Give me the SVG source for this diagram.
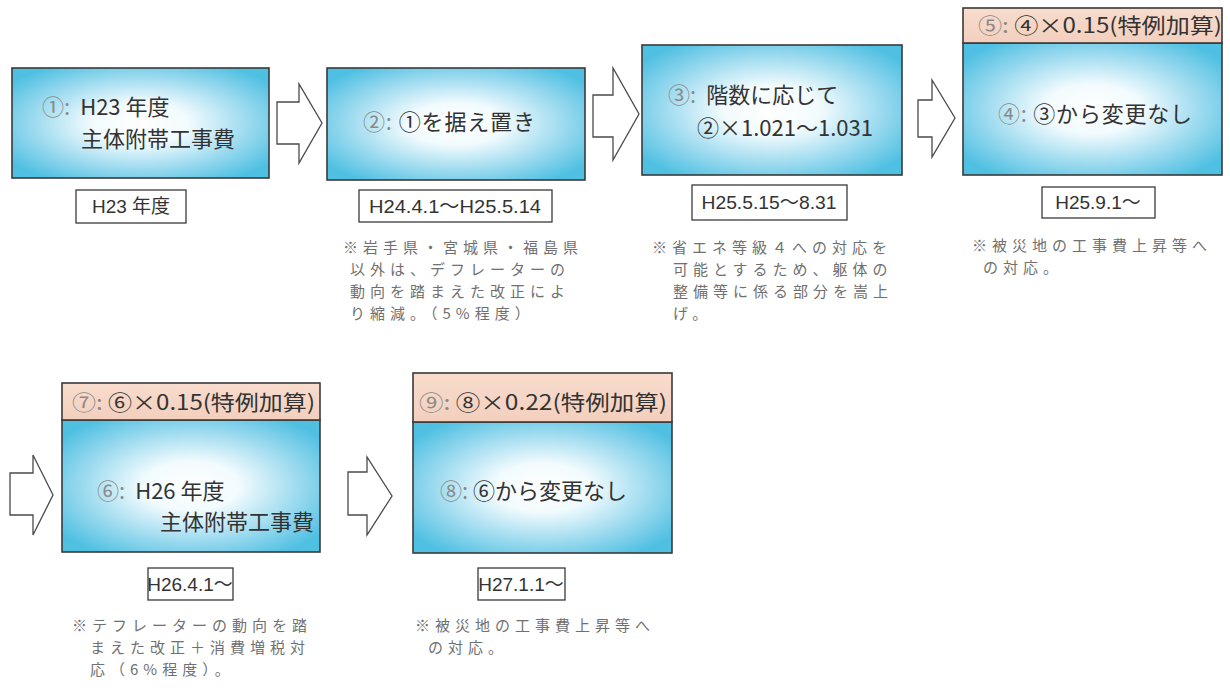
<svg xmlns="http://www.w3.org/2000/svg" width="1230" height="690" viewBox="0 0 1230 690">
<defs>
<radialGradient id="blue" cx="0.5" cy="0.5" r="0.62">
<stop offset="0" stop-color="#ffffff"/>
<stop offset="0.3" stop-color="#f2fbfe"/>
<stop offset="0.7" stop-color="#96d8ee"/>
<stop offset="1" stop-color="#4fc0e2"/>
</radialGradient>
<linearGradient id="peach" x1="0" y1="0" x2="0" y2="1">
<stop offset="0" stop-color="#f8dccd"/>
<stop offset="1" stop-color="#f3cfbd"/>
</linearGradient>
<style>
.box{fill:url(#blue);stroke:#3a3a3a;stroke-width:1.6}
.hdr{fill:url(#peach);stroke:#3a3a3a;stroke-width:1.6}
.lbl{fill:#ffffff;stroke:#3a3a3a;stroke-width:1.3}
.arr{fill:#ffffff;stroke:#4a4a4a;stroke-width:1.3;stroke-linejoin:miter}
.t{font-family:"Noto Sans CJK JP","Liberation Sans",sans-serif;fill:#333333;font-size:22px}
.h{font-family:"Noto Sans CJK JP","Liberation Sans",sans-serif;fill:#333333;font-size:21px}
.p{fill:#8a8a8a}
.l{font-family:"Liberation Sans","Noto Sans CJK JP",sans-serif;fill:#333333;font-size:19px;text-anchor:middle}
.n{font-family:"Noto Sans CJK JP",sans-serif;fill:#707070;font-size:15px;letter-spacing:5px}
</style>
</defs>
<rect width="1230" height="690" fill="#ffffff"/>

<g id="connectors">
<path class="arr" d="M277,102 H299 V84 L322,123 L299,163 V144 H277 Z"/>
<path class="arr" d="M593,95 H613 V68 L639,114 L613,160 V137 H593 Z"/>
<path class="arr" d="M918,100 H932 V80 L955,118 L932,157 V137 H918 Z"/>
<path class="arr" d="M10,473 H33 V455 L53,495 L33,535 V515 H10 Z"/>
<path class="arr" d="M348,472 H367 V457 L392,496 L367,535 V515 H348 Z"/>
</g>

<g id="node1">
<rect class="box" x="12" y="68" width="257" height="110"/>
<text class="t" x="42" y="115"><tspan class="p">①:</tspan><tspan dx="10">H23 年度</tspan></text>
<text class="t" x="81" y="147">主体附帯工事費</text>
<rect class="lbl" x="76" y="190" width="110" height="33"/>
<text class="l" x="131" y="213">H23 年度</text>
</g>

<g id="node2">
<rect class="box" x="327" y="68" width="258" height="112"/>
<text class="t" x="363" y="130" textLength="172"><tspan class="p">②:</tspan> ①を据え置き</text>
<rect class="lbl" x="359" y="190" width="193" height="32"/>
<text class="l" x="455" y="213" textLength="172" lengthAdjust="spacingAndGlyphs">H24.4.1～H25.5.14</text>
<text class="n"><tspan x="343" y="253">※岩手県・宮城県・福島県</tspan><tspan x="350" y="275">以外は、デフレーターの</tspan><tspan x="350" y="297">動向を踏まえた改正によ</tspan><tspan x="350" y="319">り縮減。（5%程度）</tspan></text>
</g>

<g id="node3">
<rect class="box" x="642" y="45" width="260" height="130"/>
<text class="t" x="668" y="103"><tspan class="p">③:</tspan><tspan dx="10">階数に応じて</tspan></text>
<text class="t" x="697" y="136">②×1.021～1.031</text>
<rect class="lbl" x="692" y="185" width="155" height="35"/>
<text class="l" x="769" y="209" textLength="135" lengthAdjust="spacingAndGlyphs">H25.5.15～8.31</text>
<text class="n"><tspan x="652" y="253">※省エネ等級４への対応を</tspan><tspan x="673" y="275">可能とするため、躯体の</tspan><tspan x="673" y="297">整備等に係る部分を嵩上</tspan><tspan x="673" y="319">げ。</tspan></text>
</g>

<g id="node4">
<rect class="box" x="963" y="43" width="259" height="132"/>
<text class="t" x="998" y="122" textLength="194"><tspan class="p">④:</tspan> ③から変更なし</text>
</g>

<g id="node5">
<rect class="hdr" x="963" y="8" width="259" height="35"/>
<text class="h" x="978" y="33" textLength="244" lengthAdjust="spacingAndGlyphs"><tspan class="p">⑤:</tspan> ④×0.15(特例加算)</text>
<rect class="lbl" x="1042" y="187" width="113" height="31"/>
<text class="l" x="1098" y="209">H25.9.1～</text>
<text class="n"><tspan x="972" y="251">※被災地の工事費上昇等へ</tspan><tspan x="983" y="273">の対応。</tspan></text>
</g>

<g id="node6">
<rect class="box" x="62" y="420" width="258" height="132"/>
<text class="t" x="97" y="499"><tspan class="p">⑥:</tspan><tspan dx="10">H26 年度</tspan></text>
<text class="t" x="160" y="530">主体附帯工事費</text>
<rect class="lbl" x="148" y="568" width="85" height="32"/>
<text class="l" x="190" y="591">H26.4.1～</text>
<text class="n"><tspan x="72" y="631">※テフレーターの動向を踏</tspan><tspan x="90" y="653">まえた改正＋消費増税対</tspan><tspan x="90" y="675">応（6%程度）。</tspan></text>
</g>

<g id="node7">
<rect class="hdr" x="62" y="383" width="258" height="37"/>
<text class="h" x="72" y="410" textLength="243" lengthAdjust="spacingAndGlyphs"><tspan class="p">⑦:</tspan> ⑥×0.15(特例加算)</text>
</g>

<g id="node8">
<rect class="box" x="413" y="422" width="259" height="131"/>
<text class="t" x="440" y="499" textLength="187"><tspan class="p">⑧:</tspan> ⑥から変更なし</text>
<rect class="lbl" x="478" y="568" width="87" height="32"/>
<text class="l" x="521" y="591">H27.1.1～</text>
<text class="n"><tspan x="415" y="631">※被災地の工事費上昇等へ</tspan><tspan x="428" y="653">の対応。</tspan></text>
</g>

<g id="node9">
<rect class="hdr" x="413" y="373" width="259" height="49"/>
<text class="h" x="419" y="410" textLength="248" lengthAdjust="spacingAndGlyphs"><tspan class="p">⑨:</tspan> ⑧×0.22(特例加算)</text>
</g>
</svg>
